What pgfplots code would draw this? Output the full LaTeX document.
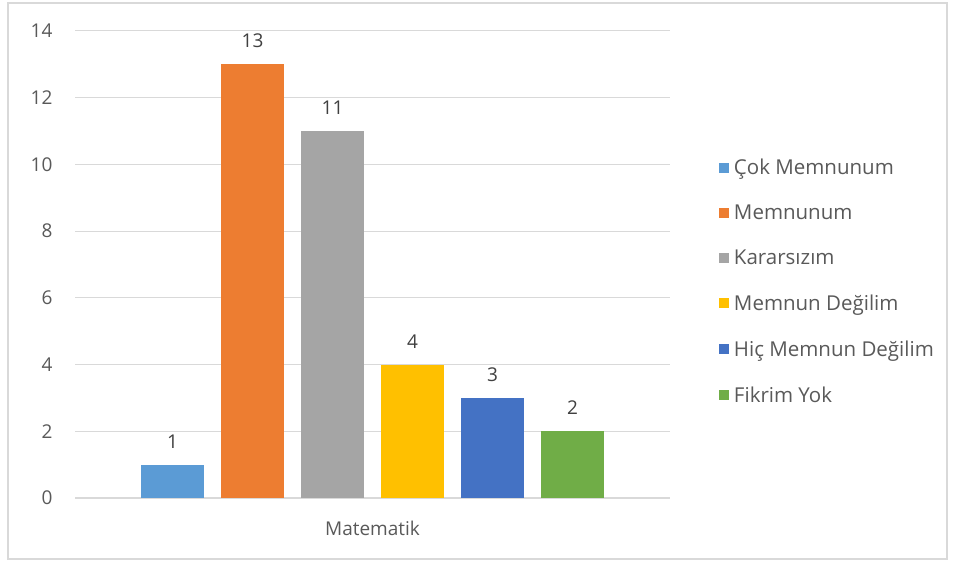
\documentclass[border=0pt]{standalone}
\usepackage{pgfplots}
\pgfplotsset{compat=1.18}
\usepackage{fontspec}
\setmainfont{Open Sans}
\definecolor{c1}{HTML}{5B9BD5}
\definecolor{c2}{HTML}{ED7D31}
\definecolor{c3}{HTML}{A5A5A5}
\definecolor{c4}{HTML}{FFC000}
\definecolor{c5}{HTML}{4472C4}
\definecolor{c6}{HTML}{70AD47}
\definecolor{gridc}{HTML}{D9D9D9}
\definecolor{txt}{HTML}{595959}
\definecolor{lbl}{HTML}{404040}
\begin{document}
\begin{tikzpicture}[x=1pt,y=1pt]
\path[use as bounding box] (0,0) rectangle (955,563);
\draw[gridc, line width=1.2pt] (8,4) rectangle (947,560);
\begin{axis}[
  at={(75pt,65pt)}, anchor=south west,
  scale only axis, width=595pt, height=467pt,
  xmin=-1, xmax=1, ymin=0, ymax=14,
  ytick={0,2,...,14},
  xtick={0}, xticklabels={Matematik},
  /pgf/number format/assume math mode=true,
  ybar=17pt, bar width=63pt,
  axis line style={draw=none},
  ymajorgrids, grid style={gridc, line width=1pt},
  major tick length=0pt,
  tick label style={font=\fontsize{19}{22}\selectfont, text=txt},
  yticklabel style={xshift=-19pt},
  xticklabel style={yshift=-20pt},
  nodes near coords,
  every node near coord/.append style={font=\fontsize{19}{22}\selectfont, text=lbl, yshift=13pt},
  legend cell align=left,
  legend style={at={(1.082,0.464)}, anchor=west, draw=none, fill=none,
    font=\fontsize{20.5}{23}\selectfont, text=txt, row sep=24.8pt, inner sep=0pt,
    nodes={inner xsep=5pt}},
  legend image code/.code={\fill[#1] (0pt,-5pt) rectangle (10pt,5pt);},
  extra y ticks={0}, extra y tick labels={}, extra y tick style={grid style={gridc, line width=1.2pt}},
]
\addplot[fill=c1, draw=none] coordinates {(0,1)};
\addplot[fill=c2, draw=none] coordinates {(0,13)};
\addplot[fill=c3, draw=none] coordinates {(0,11)};
\addplot[fill=c4, draw=none] coordinates {(0,4)};
\addplot[fill=c5, draw=none] coordinates {(0,3)};
\addplot[fill=c6, draw=none] coordinates {(0,2)};
\legend{Çok Memnunum, Memnunum, Kararsızım, Memnun Değilim, Hiç Memnun Değilim, Fikrim Yok}
\end{axis}
\end{tikzpicture}
\end{document}
